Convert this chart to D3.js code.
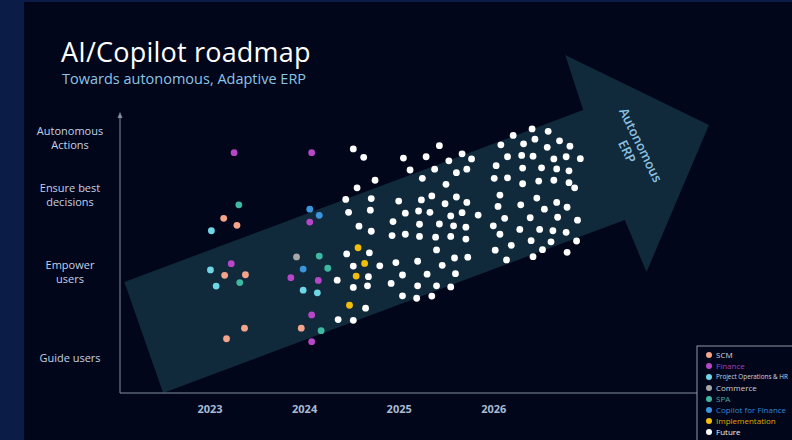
<!DOCTYPE html>
<html>
<head>
<meta charset="utf-8">
<script src="https://cdn.jsdelivr.net/npm/d3@7"></script>
<style>
  html, body { margin: 0; padding: 0; background: #0b1d46; }
  svg { display: block; font-family: 'Open Sans', 'Noto Sans', sans-serif; }
</style>
</head>
<body>
<svg id="chart" width="792" height="440"></svg>
<script>
/* global d3 */

// ---- data (x = year, y = maturity level 0..10) ----
let years = [2023, 2024, 2025, 2026]
let levelNames = [['Guide users'], ['Empower', 'users'], ['Ensure best', 'decisions'], ['Autonomous', 'Actions']]
let levelValues = [1.30, 4.48, 7.33, 9.44]
let categories = ['SCM', 'Finance', 'Project Operations & HR', 'Commerce', 'SPA', 'Copilot for Finance', 'Implementation', 'Future']

let scm = [[2023.15, 6.47], [2023.29, 6.21], [2023.16, 4.36], [2023.38, 4.38], [2023.37, 2.40], [2023.18, 2.01], [2023.97, 2.40]]
let finance = [[2023.26, 8.90], [2024.08, 8.90], [2024.06, 6.33], [2023.23, 4.79], [2023.86, 4.27], [2024.15, 4.17], [2024.08, 2.89], [2024.08, 1.90]]
let projectOps = [[2023.02, 6.01], [2023.01, 4.56], [2023.07, 3.96], [2023.99, 3.81], [2024.14, 3.71]]
let commerce = [[2023.92, 5.04]]
let spa = [[2023.31, 6.97], [2023.32, 4.09], [2024.16, 5.07], [2024.25, 4.62], [2024.18, 2.31]]
let copilotFinance = [[2024.06, 6.81], [2024.16, 6.58], [2023.99, 4.59]]
let implementation = [[2024.57, 5.38], [2024.64, 4.80], [2024.55, 4.33], [2024.48, 3.25]]
let future = [
  // 2025 wave
  [2024.52, 9.04], [2024.63, 8.73], [2024.56, 7.60], [2024.75, 7.88], [2024.44, 7.17], [2024.71, 7.20],
  [2024.47, 6.69], [2024.70, 6.77], [2024.58, 6.18], [2024.71, 5.99], [2024.45, 5.15], [2024.69, 5.19],
  [2024.52, 4.70], [2024.80, 4.71], [2024.35, 4.18], [2024.68, 4.31], [2024.52, 3.91], [2024.67, 3.97],
  [2024.65, 3.14], [2024.36, 2.72], [2024.52, 2.69],
  [2025.05, 8.70], [2025.29, 8.75], [2025.43, 9.16], [2025.67, 8.86], [2025.77, 8.67], [2025.53, 8.60],
  [2025.12, 8.26], [2025.38, 8.29], [2025.61, 8.16], [2025.72, 8.29], [2025.25, 7.95], [2025.50, 7.73],
  [2025.00, 7.11], [2025.24, 7.15], [2025.35, 7.30], [2025.61, 7.26], [2025.72, 7.06], [2025.07, 6.66],
  [2025.21, 6.74], [2025.33, 6.69], [2025.49, 7.01], [2025.55, 6.56], [2025.67, 6.68], [2025.84, 6.59],
  [2024.94, 6.35], [2025.22, 6.25], [2025.43, 6.26], [2025.58, 6.19], [2025.71, 6.14], [2024.93, 5.83],
  [2025.07, 5.88], [2025.22, 5.80], [2025.39, 5.77], [2025.55, 5.80], [2025.71, 5.70], [2025.40, 5.30],
  [2024.97, 4.83], [2025.20, 4.88], [2025.46, 4.73], [2025.59, 5.00], [2025.73, 5.03], [2025.04, 4.37],
  [2025.30, 4.40], [2025.60, 4.42], [2024.92, 4.06], [2025.20, 3.97], [2025.40, 3.97], [2025.55, 3.93],
  [2025.04, 3.60], [2025.19, 3.51], [2025.35, 3.59],
  // 2026 wave
  [2026.41, 9.78], [2026.58, 9.69], [2026.21, 9.54], [2026.44, 9.40], [2026.70, 9.34], [2026.08, 9.19],
  [2026.32, 9.23], [2026.57, 9.10], [2026.81, 9.14], [2026.15, 8.75], [2026.30, 8.80], [2026.42, 8.77],
  [2026.64, 8.67], [2026.77, 8.75], [2026.92, 8.68], [2026.03, 8.42], [2026.31, 8.33], [2026.51, 8.34],
  [2026.67, 8.30], [2026.80, 8.23], [2026.01, 7.95], [2026.15, 7.97], [2026.31, 7.75], [2026.48, 7.85],
  [2026.64, 7.88], [2026.80, 7.79], [2026.86, 7.60], [2026.07, 7.33], [2026.46, 7.22], [2026.67, 7.06],
  [2026.05, 6.91], [2026.29, 6.97], [2026.54, 6.81], [2026.78, 6.88], [2026.12, 6.47], [2026.39, 6.49],
  [2026.68, 6.51], [2026.89, 6.40], [2026.00, 6.19], [2026.28, 6.06], [2026.49, 6.06], [2026.63, 6.01],
  [2026.77, 5.95], [2026.07, 5.88], [2026.40, 5.64], [2026.61, 5.60], [2026.88, 5.63], [2026.19, 5.47],
  [2026.02, 5.29], [2026.52, 5.31], [2026.78, 5.21], [2026.14, 4.93], [2026.42, 5.05]
]
let seriesData = [scm, finance, projectOps, commerce, spa, copilotFinance, implementation, future]

// big background arrow, in data units
let arrowShape = [[2022.10, 4.11], [2026.95, 10.48], [2026.76, 12.52], [2028.28, 9.93], [2027.62, 4.48], [2027.39, 6.41], [2022.51, 0]]
let arrowLabel = ['Autonomous', 'ERP']
let arrowLabelAt = [2027.49, 9.07]

// ---- style ----
let colorPalette = {
  page: '#0b1d46',
  panel: '#02061a',
  arrow: '#10293b',
  axis: '#7f8ca0',
  title: '#ffffff',
  subtitle: '#8cc4e6',
  levelText: '#c3d2e6',
  yearText: '#a9bbd3',
  arrowText: '#8dc1e0',
  dots: ['#f3a48a', '#b846c9', '#6fd6e6', '#a8a8a8', '#3eb8a0', '#3a95dd', '#f2be0a', '#ffffff'],
  legendText: ['#d6d6de', '#a43fb8', '#cdd6e2', '#cfcfd4', '#4ab0a4', '#3585d4', '#e0a600', '#f2f2f2']
}

let origin = {x: 120, y: 393}
let dotR = 3.4

let svg = d3.select('#chart')

svg.append('rect')
  .attr('x', 0).attr('y', 0)
  .attr('width', 792).attr('height', 440)
  .attr('fill', colorPalette.page)
svg.append('rect')
  .attr('x', 24).attr('y', 2)
  .attr('width', 768).attr('height', 438)
  .attr('fill', colorPalette.panel)

let x = d3.scaleLinear().domain([2023, 2026]).range([209.5, 493.3])
let y = d3.scaleLinear().domain([0, 10]).range([origin.y, origin.y - 270])

// arrow
svg.append('path')
  .datum(arrowShape)
  .attr('d', d3.line().x(d => x(d[0])).y(d => y(d[1])).curve(d3.curveLinearClosed))
  .attr('fill', colorPalette.arrow)

let lbl = svg.append('g')
  .attr('transform', 'translate(' + x(arrowLabelAt[0]) + ',' + y(arrowLabelAt[1]) + ') rotate(64)')
lbl.selectAll('text')
  .data(arrowLabel)
  .enter()
  .append('text')
  .text(d => d)
  .attr('x', 0)
  .attr('y', (d, i) => -7 + i * 15)
  .attr('dy', '0.35em')
  .attr('text-anchor', 'middle')
  .style('font-size', '13px')
  .style('font-weight', 600)
  .attr('fill', colorPalette.arrowText)

// axes
svg.append('line')
  .attr('x1', origin.x).attr('y1', origin.y)
  .attr('x2', origin.x).attr('y2', 116)
  .attr('stroke', colorPalette.axis)
  .attr('stroke-width', 1)
svg.append('path')
  .attr('d', 'M' + (origin.x - 2.5) + ',118 L' + origin.x + ',112 L' + (origin.x + 2.5) + ',118 Z')
  .attr('fill', colorPalette.axis)
svg.append('line')
  .attr('x1', origin.x).attr('y1', origin.y)
  .attr('x2', 697).attr('y2', origin.y)
  .attr('stroke', colorPalette.axis)
  .attr('stroke-width', 1)

let xAxis = svg.append('g')
  .attr('transform', 'translate(0,' + (origin.y + 9) + ')')
  .call(d3.axisBottom(x).tickValues(years).tickFormat(d3.format('d')).tickSize(0))
xAxis.select('.domain').remove()
xAxis.selectAll('text')
  .style('font-size', '11px')
  .style('font-weight', 'bold')
  .style('font-family', "'Open Sans', sans-serif")
  .attr('fill', colorPalette.yearText)

// level labels
let lev = svg.append('g')
levelValues.forEach(function (v, i) {
  let lines = levelNames[i]
  let t = lev.append('text')
    .attr('x', 70)
    .attr('y', y(v))
    .attr('text-anchor', 'middle')
    .style('font-size', '11px')
    .style('font-weight', 500)
    .attr('fill', colorPalette.levelText)
  lines.forEach(function (s, j) {
    t.append('tspan')
      .attr('x', 70)
      .attr('y', y(v) + 4 + (j - (lines.length - 1) / 2) * 13.5)
      .text(s)
  })
})

// dots
seriesData.forEach(function (pts, i) {
  svg.append('g')
    .selectAll('circle')
    .data(pts)
    .enter()
    .append('circle')
    .attr('cx', d => x(d[0]))
    .attr('cy', d => y(d[1]))
    .attr('r', dotR)
    .attr('fill', colorPalette.dots[i])
})

// title
svg.append('text')
  .text('AI/Copilot roadmap')
  .attr('x', 61)
  .attr('y', 62)
  .style('font-size', '27px')
  .style('letter-spacing', '0.2px')
  .attr('fill', colorPalette.title)
svg.append('text')
  .text('Towards autonomous, Adaptive ERP')
  .attr('x', 62)
  .attr('y', 84)
  .style('font-size', '14.5px')
  .attr('fill', colorPalette.subtitle)

// legend
let legend = svg.append('g').attr('transform', 'translate(697,346)')
legend.append('rect')
  .attr('x', 0).attr('y', 0)
  .attr('width', 110).attr('height', 110)
  .attr('fill', colorPalette.panel)
  .attr('stroke', '#b4bcc8')
  .attr('stroke-width', 0.8)
let item = legend.selectAll('g.item')
  .data(categories)
  .enter()
  .append('g')
  .attr('class', 'item')
  .attr('transform', (d, i) => 'translate(0,' + (9 + i * 11) + ')')
item.append('circle')
  .attr('cx', 12)
  .attr('cy', 0)
  .attr('r', 3)
  .attr('fill', (d, i) => colorPalette.dots[i])
item.append('text')
  .text(d => d)
  .attr('x', 19)
  .attr('y', 0)
  .attr('dy', '0.35em')
  .style('font-size', '8px')
  .attr('fill', (d, i) => colorPalette.legendText[i])
  .each(function () {
    // a long name gets a narrower face and, if needed, a smaller size so it stays on the page
    let room = 792 - 697 - 19 - 4
    let el = d3.select(this)
    if (this.getComputedTextLength() > room) {
      el.style('font-family', "'Liberation Sans Narrow', 'Open Sans', sans-serif")
      let len = this.getComputedTextLength()
      if (len > room) el.style('font-size', (8 * room / len).toFixed(2) + 'px')
    }
  })
</script>
</body>
</html>
